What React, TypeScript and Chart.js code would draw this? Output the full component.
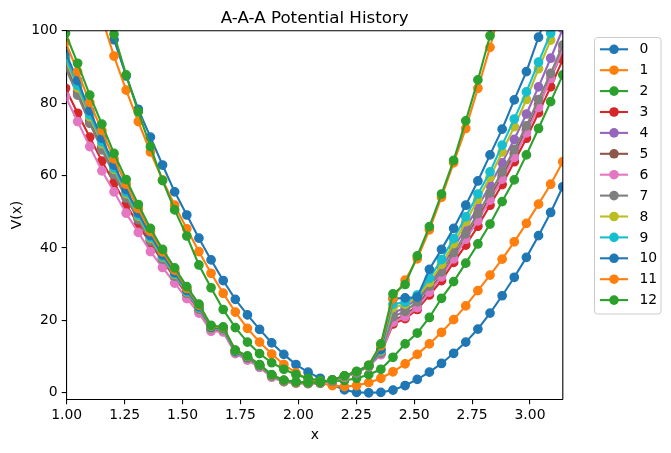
import React, { useEffect, useRef } from 'react';
import { Chart, registerables } from 'chart.js';

Chart.register(...registerables);

// Sample grid: x = k*pi/60 for k = 19..60
const X = [
  0.99484, 1.0472, 1.09956, 1.15192, 1.20428, 1.25664, 1.309, 1.36136, 1.41372, 1.46608,
  1.51844, 1.5708, 1.62316, 1.67552, 1.72788, 1.78024, 1.8326, 1.88496, 1.93732, 1.98968,
  2.04204, 2.0944, 2.14675, 2.19911, 2.25147, 2.30383, 2.35619, 2.40855, 2.46091, 2.51327,
  2.56563, 2.61799, 2.67035, 2.72271, 2.77507, 2.82743, 2.87979, 2.93215, 2.98451, 3.03687,
  3.08923, 3.14159,
];

const V0 = [152, 136, 122, 109, 97.5, 87.5, 78.3, 70.6, 62.9, 55.5, 49.1, 42.7, 36.7, 31.0, 25.8, 21.5, 17.5, 13.8, 10.6, 7.8, 5.7, 4.0, 2.3, 0.8, 0.1, 0.0, 0.1, 0.75, 2.0, 3.7, 5.7, 8.1, 10.9, 14.0, 17.6, 22.0, 26.8, 31.9, 37.4, 43.4, 49.8, 56.9];
const V1 = [142, 127, 115, 103.5, 93.0, 83.6, 74.9, 66.5, 58.8, 51.8, 45.3, 39.0, 33.0, 27.5, 22.3, 17.8, 14.0, 10.7, 7.8, 5.5, 3.8, 2.7, 2.0, 1.7, 2.0, 2.8, 4.0, 5.8, 8.0, 10.6, 13.5, 16.7, 20.2, 24.0, 28.2, 32.5, 36.9, 41.7, 46.8, 52.1, 57.6, 63.8];
const V2 = [160, 143, 127, 112, 99, 87.8, 77.6, 68.0, 58.6, 50.5, 43.3, 35.3, 29.0, 23.0, 18.0, 14.0, 10.8, 8.3, 6.5, 5.0, 4.0, 3.4, 3.2, 3.4, 4.0, 5.0, 6.5, 9.8, 13.5, 16.5, 20.8, 26.1, 30.7, 35.8, 41.1, 46.6, 52.8, 58.8, 65.7, 73.0, 80.4, 87.8];
const V3 = [84.1, 77.2, 70.6, 64.0, 58.0, 52.0, 46.5, 41.2, 36.5, 31.9, 27.2, 22.9, 17.5, 17.2, 11.1, 9.4, 7.2, 4.5, 3.15, 2.75, 2.6, 2.7, 3.4, 4.4, 5.6, 7.3, 10.8, 19.0, 20.5, 23.0, 27.0, 31.0, 36.0, 40.8, 46.0, 51.8, 57.5, 63.8, 70.3, 77.3, 84.5, 92.0];
const V4 = [90.9, 83.3, 75.4, 68.0, 61.0, 54.4, 48.3, 42.3, 37.2, 32.5, 27.7, 23.3, 17.8, 17.5, 11.3, 9.6, 7.4, 4.65, 3.25, 2.8, 2.65, 2.75, 3.45, 4.5, 5.7, 7.4, 11.3, 22.0, 23.5, 26.0, 29.8, 34.5, 40.0, 45.5, 51.3, 57.3, 63.5, 70.0, 77.0, 84.5, 92.4, 100.5];
const V5 = [90.2, 82.6, 74.8, 67.5, 60.6, 54.1, 48.0, 42.1, 37.0, 32.3, 27.6, 23.2, 17.8, 17.5, 11.3, 9.6, 7.4, 4.6, 3.25, 2.8, 2.65, 2.75, 3.45, 4.5, 5.7, 7.4, 11.0, 20.0, 21.5, 24.0, 28.5, 32.5, 37.5, 42.8, 48.3, 54.0, 59.8, 66.0, 72.5, 79.5, 86.8, 94.5];
const V6 = [81.8, 74.9, 68.0, 61.3, 55.5, 49.6, 44.3, 39.0, 34.6, 30.3, 26.0, 22.0, 17.0, 16.8, 10.8, 9.0, 7.0, 4.3, 3.0, 2.6, 2.5, 2.6, 3.3, 4.3, 5.5, 7.2, 10.5, 19.5, 21.0, 23.5, 27.8, 32.0, 37.0, 42.4, 47.5, 53.2, 59.0, 65.0, 71.8, 78.8, 86.8, 95.0];
const V7 = [89.7, 82.2, 74.4, 67.1, 60.3, 53.8, 47.8, 41.9, 36.9, 32.2, 27.5, 23.1, 17.7, 17.4, 11.25, 9.55, 7.35, 4.6, 3.2, 2.8, 2.65, 2.75, 3.45, 4.5, 5.7, 7.4, 11.0, 21.0, 22.5, 25.1, 29.5, 33.4, 38.7, 43.9, 49.5, 55.2, 61.0, 67.2, 73.7, 81.0, 88.2, 96.0];
const V8 = [92.0, 84.2, 76.2, 68.8, 61.7, 55.0, 48.8, 42.7, 37.5, 32.7, 27.9, 23.5, 17.9, 17.6, 11.4, 9.7, 7.5, 4.7, 3.3, 2.8, 2.7, 2.8, 3.5, 4.5, 5.7, 7.4, 11.6, 23.5, 24.5, 26.5, 30.5, 35.5, 41.2, 47.2, 53.4, 59.5, 66.5, 73.5, 81.0, 89.5, 97.4, 106];
const V9 = [92.7, 84.9, 76.8, 69.3, 62.1, 55.4, 49.1, 43.0, 37.7, 32.9, 28.0, 23.6, 18.0, 17.7, 11.4, 9.7, 7.5, 4.75, 3.3, 2.85, 2.7, 2.8, 3.5, 4.55, 5.75, 7.45, 11.8, 24.5, 25.0, 27.0, 31.6, 36.8, 42.6, 48.6, 54.9, 61.0, 68.4, 75.6, 83.1, 91.3, 99.3, 108];
const V10 = [94.0, 86.2, 77.9, 70.3, 62.9, 56.1, 49.7, 43.5, 38.1, 33.2, 28.3, 23.8, 18.1, 17.8, 11.5, 9.8, 7.6, 4.8, 3.35, 2.9, 2.7, 2.8, 3.5, 4.6, 5.8, 7.5, 12.0, 26.0, 26.2, 26.4, 34.1, 39.6, 45.4, 51.8, 58.5, 65.7, 72.8, 80.9, 88.7, 98.2, 107.5, 117];
const V11 = [96.9, 88.7, 80.2, 72.4, 64.6, 57.6, 50.9, 44.5, 38.9, 33.9, 28.8, 24.2, 18.4, 18.0, 11.7, 10.0, 7.7, 4.9, 3.4, 2.9, 2.75, 2.85, 3.55, 4.65, 5.85, 7.55, 13.0, 26.0, 31.1, 37.0, 45.0, 54.0, 63.5, 73.0, 84.1, 95.4, 108, 121, 135, 150, 165, 181];
const V12 = [99.3, 91.0, 82.2, 74.2, 66.1, 58.9, 52.0, 45.4, 39.6, 34.5, 29.3, 24.5, 18.6, 18.2, 11.8, 10.2, 7.8, 5.0, 3.5, 3.0, 2.8, 2.9, 3.6, 4.7, 5.9, 7.6, 13.5, 27.3, 29.9, 37.8, 45.9, 54.9, 64.2, 75.1, 86.4, 98.6, 111.5, 125, 139, 154, 170, 187];

const SERIES = [V0, V1, V2, V3, V4, V5, V6, V7, V8, V9, V10, V11, V12];
const LABELS = ['0', '1', '2', '3', '4', '5', '6', '7', '8', '9', '10', '11', '12'];
const PALETTE = [
  '#1f77b4', '#ff7f0e', '#2ca02c', '#d62728', '#9467bd',
  '#8c564b', '#e377c2', '#7f7f7f', '#bcbd22', '#17becf',
];

const X_TICKS = [1.0, 1.25, 1.5, 1.75, 2.0, 2.25, 2.5, 2.75, 3.0];
const Y_TICKS = [0, 20, 40, 60, 80, 100];

const FONT = 'DejaVu Sans';
const W = 671;
const H = 453;

// Top/right spines, title and boxed legend
const decorations = {
  id: 'decorations',
  afterDraw(chart: any) {
    const { ctx, chartArea } = chart;
    const { left, right, top, bottom } = chartArea;
    ctx.save();
    ctx.strokeStyle = '#000';
    ctx.lineWidth = 1.1;
    ctx.beginPath();
    ctx.moveTo(left, top);
    ctx.lineTo(right, top);
    ctx.lineTo(right, bottom);
    ctx.stroke();

    ctx.fillStyle = '#000';
    ctx.font = `16.7px "${FONT}"`;
    ctx.textAlign = 'center';
    ctx.textBaseline = 'alphabetic';
    ctx.fillText('A-A-A Potential History', (left + right) / 2, 22.5);

    // legend box
    const bx = 594.5, by = 37.5, bw = 66.5, bh = 276.5, r = 3;
    ctx.beginPath();
    ctx.moveTo(bx + r, by);
    ctx.lineTo(bx + bw - r, by);
    ctx.arcTo(bx + bw, by, bx + bw, by + r, r);
    ctx.lineTo(bx + bw, by + bh - r);
    ctx.arcTo(bx + bw, by + bh, bx + bw - r, by + bh, r);
    ctx.lineTo(bx + r, by + bh);
    ctx.arcTo(bx, by + bh, bx, by + bh - r, r);
    ctx.lineTo(bx, by + r);
    ctx.arcTo(bx, by, bx + r, by, r);
    ctx.closePath();
    ctx.fillStyle = 'rgba(255,255,255,0.8)';
    ctx.fill();
    ctx.strokeStyle = '#cccccc';
    ctx.lineWidth = 1;
    ctx.stroke();

    ctx.font = `13.9px "${FONT}"`;
    ctx.textAlign = 'left';
    ctx.textBaseline = 'middle';
    LABELS.forEach((lab, i) => {
      const y = 49.3 + i * 20.9;
      const c = PALETTE[i % PALETTE.length];
      ctx.strokeStyle = c;
      ctx.lineWidth = 2.1;
      ctx.beginPath();
      ctx.moveTo(600, y);
      ctx.lineTo(628, y);
      ctx.stroke();
      ctx.fillStyle = c;
      ctx.beginPath();
      ctx.arc(614, y, 4.8, 0, Math.PI * 2);
      ctx.fill();
      ctx.fillStyle = '#000';
      ctx.fillText(lab, 639.5, y + 0.5);
    });
    ctx.restore();
  },
};

export default function App() {
  const ref = useRef<HTMLCanvasElement | null>(null);

  useEffect(() => {
    if (!ref.current) return;
    Chart.defaults.font.family = FONT;
    const datasets = SERIES.map((vals, i) => {
      const c = PALETTE[i % PALETTE.length];
      return {
        label: LABELS[i],
        data: vals.map((v, j) => ({ x: X[j], y: v })),
        borderColor: c,
        backgroundColor: c,
        borderWidth: 2.1,
        pointRadius: 4.2,
        pointBorderWidth: 1.3,
        pointBorderColor: c,
        pointBackgroundColor: c,
        pointHoverRadius: 4.2,
        tension: 0,
        fill: false,
        clip: 0,
        order: LABELS.length - 1 - i,
      };
    });

    const chart = new Chart(ref.current, {
      type: 'line',
      data: { datasets },
      options: {
        responsive: false,
        animation: false,
        devicePixelRatio: 1,
        layout: { padding: { left: 0, top: 30.7, right: W - 562.8, bottom: 0 } },
        plugins: {
          legend: { display: false },
          tooltip: { enabled: false },
          title: { display: false },
        },
        scales: {
          x: {
            type: 'linear',
            min: 1,
            max: Math.PI,
            afterFit: (s: any) => { s.height = H - 399.3; },
            afterBuildTicks: (s: any) => { s.ticks = X_TICKS.map((v) => ({ value: v })); },
            ticks: {
              color: '#000',
              font: { size: 13.9 },
              padding: 3,
              maxRotation: 0,
              autoSkip: false,
              callback: (v: any) => Number(v).toFixed(2),
            },
            grid: { drawOnChartArea: false, drawTicks: true, tickLength: 5, color: '#000', lineWidth: 1.1 },
            border: { display: true, color: '#000', width: 1.1 },
            title: { display: true, text: 'x', color: '#000', font: { size: 13.9 }, padding: { top: 0, bottom: 9.5 } },
          },
          y: {
            type: 'linear',
            min: -1.8,
            max: 100,
            afterFit: (s: any) => { s.width = 66.7; },
            afterBuildTicks: (s: any) => { s.ticks = Y_TICKS.map((v) => ({ value: v })); },
            ticks: { color: '#000', font: { size: 13.9 }, padding: 4, autoSkip: false },
            grid: { drawOnChartArea: false, drawTicks: true, tickLength: 5, color: '#000', lineWidth: 1.1 },
            border: { display: true, color: '#000', width: 1.1 },
            title: { display: true, text: 'V(x)', color: '#000', font: { size: 13.9 }, padding: { top: 9.3, bottom: 0 } },
          },
        },
      },
      plugins: [decorations],
    } as any);

    return () => chart.destroy();
  }, []);

  return (
    <div style={{ position: 'fixed', left: 0, top: 0, width: W, height: H, background: '#fff' }}>
      <canvas ref={ref} width={W} height={H} style={{ display: 'block', width: W, height: H }} />
    </div>
  );
}
